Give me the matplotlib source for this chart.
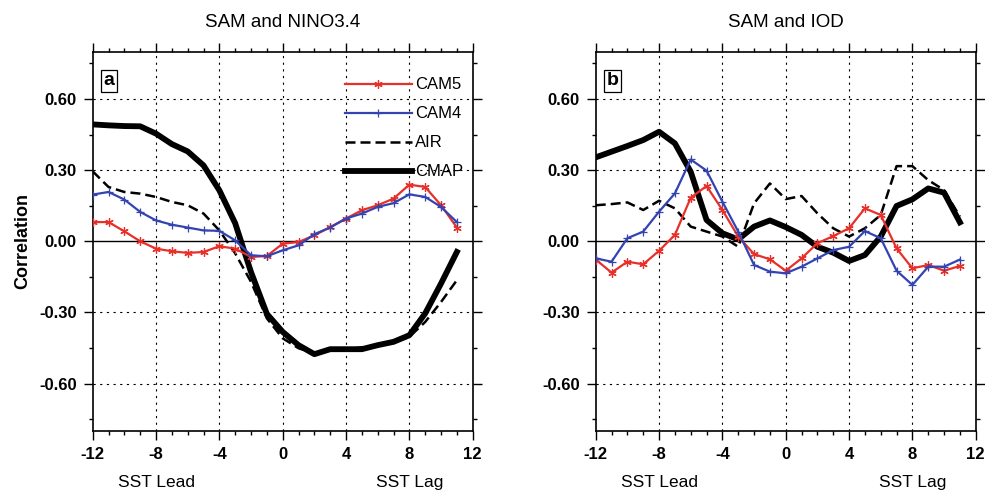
import numpy as np
import matplotlib
matplotlib.use("Agg")
import matplotlib.pyplot as plt
from matplotlib.ticker import MultipleLocator
import matplotlib.transforms as mtransforms

plt.rcParams["font.family"] = ["Liberation Sans", "DejaVu Sans"]
plt.rcParams["axes.unicode_minus"] = False

# lags in months (negative = SST leads)
lags = np.arange(-12, 12)

# SAM vs NINO3.4
cam5_nino = [0.081, 0.081, 0.042, 0.000, -0.031, -0.042, -0.049, -0.045, -0.021, -0.031, -0.066, -0.062,
             -0.010, -0.003, 0.025, 0.060, 0.096, 0.131, 0.152, 0.180, 0.239, 0.229, 0.152, 0.058]
cam4_nino = [0.197, 0.208, 0.176, 0.124, 0.088, 0.070, 0.058, 0.046, 0.044, 0.004, -0.059, -0.063,
             -0.038, -0.017, 0.030, 0.058, 0.096, 0.117, 0.145, 0.161, 0.198, 0.187, 0.145, 0.081]
air_nino = [0.295, 0.229, 0.208, 0.201, 0.187, 0.166, 0.152, 0.117, 0.046, -0.051, -0.171, -0.325,
            -0.409, -0.451, -0.472, -0.459, -0.456, -0.447, -0.438, -0.428, -0.403, -0.340, -0.256, -0.164]
cmap_nino = [0.493, 0.489, 0.486, 0.485, 0.454, 0.410, 0.379, 0.320, 0.215, 0.076, -0.130, -0.306,
             -0.382, -0.438, -0.476, -0.455, -0.455, -0.455, -0.438, -0.424, -0.396, -0.304, -0.178, -0.045]

# SAM vs IOD
cam5_iod = [-0.077, -0.132, -0.086, -0.097, -0.040, 0.027, 0.184, 0.233, 0.132, 0.020, -0.054, -0.076,
            -0.124, -0.072, -0.008, 0.022, 0.055, 0.139, 0.111, -0.030, -0.114, -0.100, -0.124, -0.104]
cam4_iod = [-0.072, -0.086, 0.013, 0.041, 0.125, 0.202, 0.345, 0.298, 0.167, 0.041, -0.100, -0.128,
            -0.135, -0.107, -0.072, -0.037, -0.023, 0.043, 0.013, -0.124, -0.184, -0.107, -0.107, -0.077]
air_iod = [0.152, 0.157, 0.164, 0.132, 0.171, 0.139, 0.062, 0.041, 0.020, -0.023, 0.160, 0.244,
           0.178, 0.191, 0.118, 0.055, 0.020, 0.055, 0.111, 0.317, 0.317, 0.258, 0.216, 0.104]
cmap_iod = [0.354, 0.378, 0.402, 0.427, 0.462, 0.413, 0.293, 0.090, 0.034, 0.008, 0.062, 0.088,
            0.060, 0.027, -0.023, -0.048, -0.083, -0.058, 0.020, 0.149, 0.177, 0.223, 0.205, 0.080]

panels = [
    ("SAM and NINO3.4", "a", cam5_nino, cam4_nino, air_nino, cmap_nino),
    ("SAM and IOD", "b", cam5_iod, cam4_iod, air_iod, cmap_iod),
]

RED = "#e8302a"
BLUE = "#3344b0"

fig = plt.figure(figsize=(9.85, 4.91), dpi=100)
lefts = [0.0941, 0.6048]
width = 0.3858

for i, (title, tag, cam5, cam4, air, cmap) in enumerate(panels):
    ax = fig.add_axes([lefts[i], 0.1222, width, 0.7727])

    ax.plot(lags, cam5, color=RED, lw=1.6, marker=(6, 2, 0), ms=6, mew=0.9, label="CAM5", zorder=4)
    ax.plot(lags, cam4, color=BLUE, lw=1.6, marker="+", ms=6, mew=0.9, label="CAM4", zorder=4)
    ax.plot(lags, air, color="black", lw=1.8, dashes=(4, 2), label="AIR", zorder=3)
    ax.plot(lags, cmap, color="black", lw=4.2, label="CMAP", zorder=3)

    ax.set_xlim(-12, 12)
    ax.set_ylim(-0.8, 0.8)
    ax.xaxis.set_major_locator(MultipleLocator(4))
    ax.xaxis.set_minor_locator(MultipleLocator(1))
    ax.set_yticks([-0.6, -0.3, 0.0, 0.3, 0.6])
    ax.yaxis.set_minor_locator(MultipleLocator(0.15))
    ax.set_yticklabels(["-0.60", "-0.30", "0.00", "0.30", "0.60"])

    ax.tick_params(which="both", direction="out", top=True, right=True, width=1.0)
    ax.tick_params(which="major", length=6.5, labelsize=12, pad=5)
    ax.tick_params(which="minor", length=3.2)
    for lab in ax.get_xticklabels() + ax.get_yticklabels():
        lab.set_fontweight("bold")
    for sp in ax.spines.values():
        sp.set_linewidth(1.2)

    # dotted grid at interior major ticks, solid zero line
    for x in [-8, -4, 0, 4, 8]:
        ax.axvline(x, color="black", lw=0.8, ls=(0, (2, 4)), zorder=1)
    for y in [-0.6, -0.3, 0.3, 0.6]:
        ax.axhline(y, color="black", lw=0.8, ls=(0, (2, 4)), zorder=1)
    ax.axhline(0, color="black", lw=1.0, zorder=2)

    fig.text(lefts[i] + width / 2, 0.955, title, ha="center", va="center", fontsize=13.5)

    ax.text(0.028, 0.945, tag, transform=ax.transAxes, ha="left", va="top",
            fontsize=14, fontweight="bold",
            bbox=dict(boxstyle="square,pad=0.12", fc="white", ec="black", lw=0.9), zorder=6)

    trans = mtransforms.blended_transform_factory(ax.transData, ax.transAxes)
    ax.text(-8, -0.135, "SST Lead", transform=trans, ha="center", va="center", fontsize=12.5)
    ax.text(8, -0.135, "SST Lag", transform=trans, ha="center", va="center", fontsize=12.5)

    if i == 0:
        ax.set_ylabel("Correlation", fontsize=13, fontweight="bold", labelpad=6)
        ax.legend(loc="upper left", bbox_to_anchor=(0.664, 0.932), frameon=False,
                  borderpad=0, borderaxespad=0, handlelength=4.0, handletextpad=0.2,
                  labelspacing=0.84, numpoints=1, fontsize=12)

fig.savefig("out.png", dpi=100)
